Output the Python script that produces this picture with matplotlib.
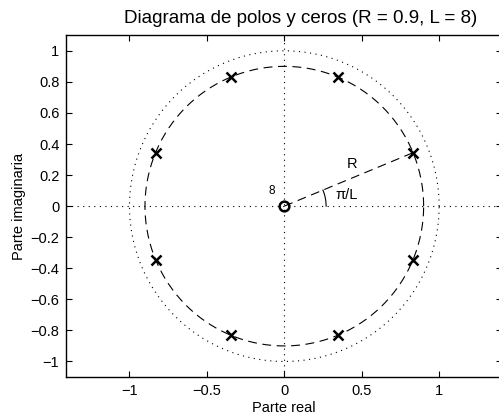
import numpy as np
import matplotlib
matplotlib.use("Agg")
import matplotlib.pyplot as plt

plt.rcParams["font.family"] = ["Liberation Sans", "DejaVu Sans"]

# pole / zero locations (R = 0.9, L = 8)
R = 0.9
L = 8
pole_re = [0.831, 0.344, -0.344, -0.831, -0.831, -0.344, 0.344, 0.831]
pole_im = [0.344, 0.831, 0.831, 0.344, -0.344, -0.831, -0.831, -0.344]
zero_re = [0.0]
zero_im = [0.0]
zero_mult = 8

xticks = [-1, -0.5, 0, 0.5, 1]
yticks = [-1, -0.8, -0.6, -0.4, -0.2, 0, 0.2, 0.4, 0.6, 0.8, 1]

fig = plt.figure(figsize=(4.99, 4.19), dpi=100)
ax = fig.add_axes([0.1329, 0.1002, 0.8737, 0.8156])

t = np.linspace(0, 2 * np.pi, 400)
dot = (0, (1, 4))
ax.plot(np.cos(t), np.sin(t), color="k", lw=0.8, ls=dot)
ax.axhline(0, color="k", lw=0.8, ls=dot)
ax.axvline(0, color="k", lw=0.8, ls=dot)
ax.plot(R * np.cos(t), R * np.sin(t), color="k", lw=0.8, ls=(0, (8, 5)))

# radius to the first pole and the angle arc
ax.plot([0, pole_re[0]], [0, pole_im[0]], color="k", lw=0.8, ls=(0, (8, 5)))
a = np.linspace(0, np.pi / L, 30)
ax.plot(0.27 * np.cos(a), 0.27 * np.sin(a), color="k", lw=0.8)
ax.text(0.435, 0.27, "R", fontsize=10.5, ha="center", va="center")
ax.text(0.40, 0.07, "\u03c0/L", fontsize=10.5, ha="center", va="center")

ax.plot(pole_re, pole_im, ls="none", marker="x", ms=7, mew=1.8, color="k")
ax.plot(zero_re, zero_im, ls="none", marker="o", ms=7, mew=1.8,
        mfc="none", color="k")
ax.text(zero_re[0] - 0.08, zero_im[0] + 0.095, str(zero_mult),
        fontsize=8.5, ha="center", va="center")

ax.set_xlim(-1.408, 1.408)
ax.set_ylim(-1.1, 1.1)
ax.set_xticks(xticks)
ax.set_xticklabels(["\u22121", "\u22120.5", "0", "0.5", "1"])
ax.set_yticks(yticks)
ax.set_yticklabels([("\u2212" + f"{abs(v):g}" if v < 0 else f"{v:g}") for v in yticks])
ax.tick_params(direction="in", length=4, width=0.8, top=True, right=True,
               labelsize=10.5, pad=5)
for s in ax.spines.values():
    s.set_linewidth(1.0)

ax.set_xlabel("Parte real", fontsize=10.5, labelpad=2)
ax.set_ylabel("Parte imaginaria", fontsize=10.5, labelpad=3)
fig.text(0.602, 0.944, "Diagrama de polos y ceros (R = 0.9, L = 8)",
         fontsize=13.5, ha="center", va="baseline")

fig.savefig("out.png", dpi=100)
